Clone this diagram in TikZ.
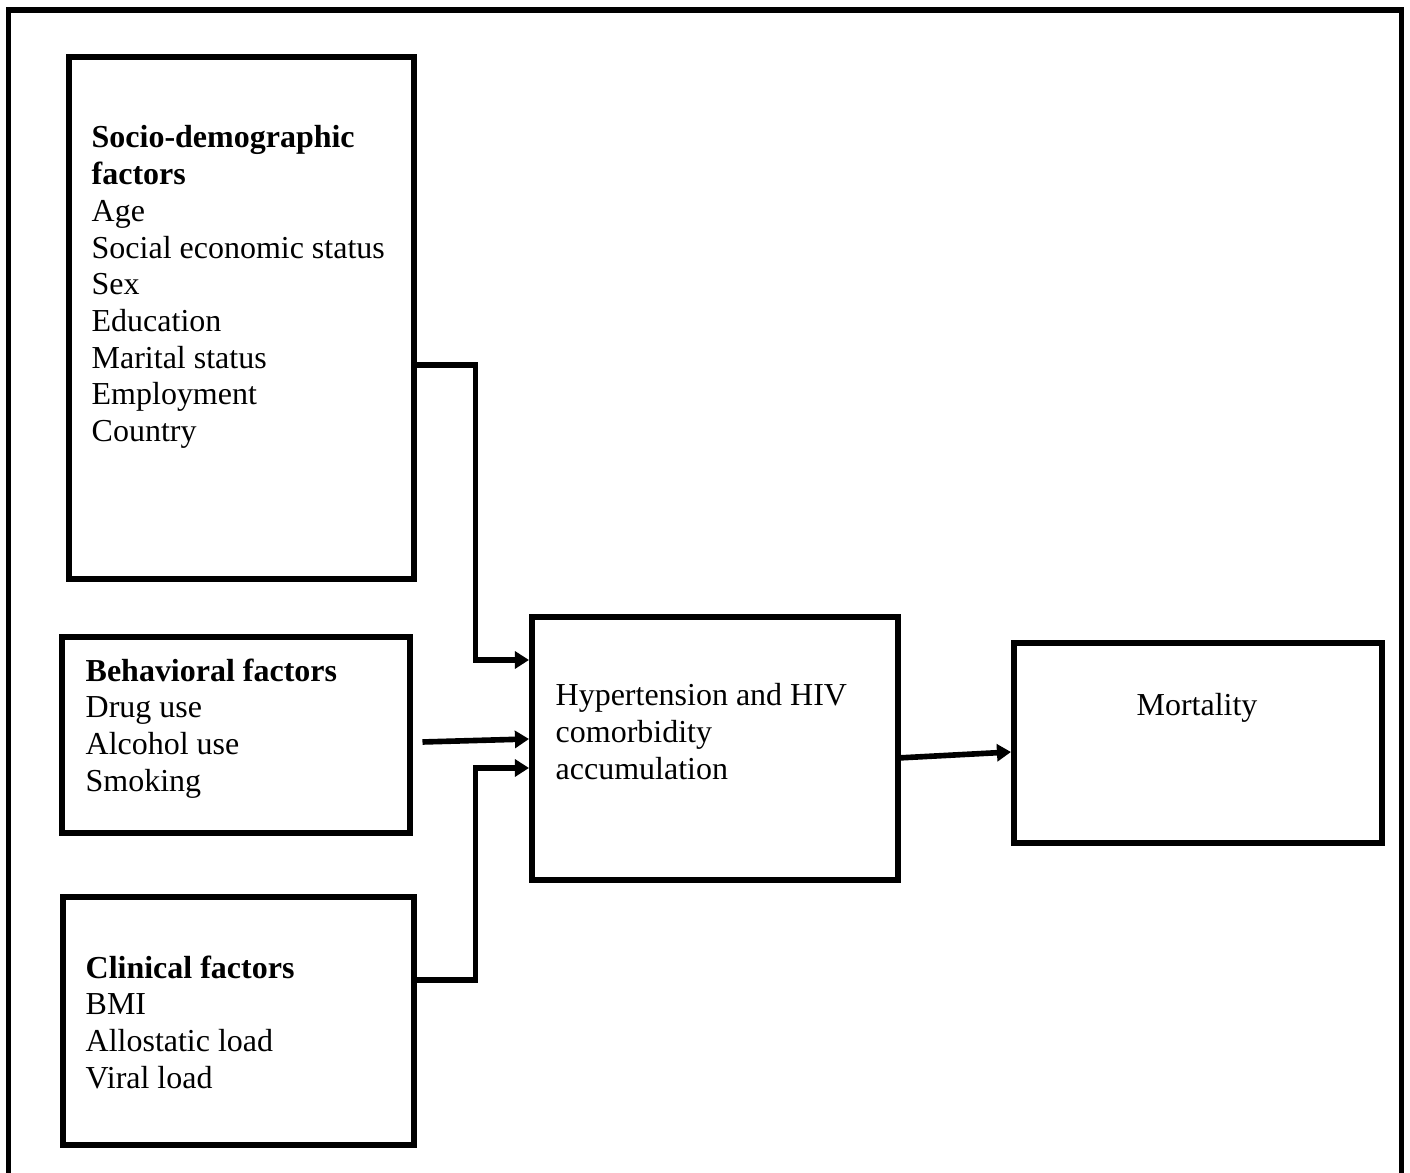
\documentclass[tikz,border=0pt]{standalone}
\usepackage{fontspec}
\setmainfont{Liberation Serif}
\usetikzlibrary{arrows.meta}

\begin{document}
\begin{tikzpicture}[
        box/.style={draw, line width=1.7pt, inner sep=0pt},
        txt/.style={inner sep=0pt, align=left, font=\fontsize{9.1}{10.45}\selectfont},
        conn/.style={line width=1.6pt, -{Triangle[length=4pt,width=4.8pt]}}]
        \useasboundingbox (0,0) rectangle (14.1,-11.73);
        \draw[line width=1.6pt] (0.085,-12)--(0.085,-0.10)--(14.015,-0.10)--(14.015,-12);
        % boxes
        \node[box, minimum width=3.45cm, minimum height=5.22cm] (socio) at (2.415,-3.18) {};
        \node[box, minimum width=3.48cm, minimum height=1.96cm] (behav) at (2.36,-7.35) {};
        \node[box, minimum width=3.51cm, minimum height=2.48cm] (clin) at (2.385,-10.21) {};
        \node[box, minimum width=3.66cm, minimum height=2.63cm] (center) at (7.15,-7.485) {};
        \node[box, minimum width=3.68cm, minimum height=2.00cm] (mort) at (11.98,-7.43) {};
        % texts
        \node[txt, anchor=north west] (sociotxt) at (0.91,-1.25) {\textbf{Socio-demographic}\\\textbf{factors}\\Age\\Social economic status\\Sex\\Education\\Marital status\\Employment\\Country};
        \node[txt, anchor=north west] (behavtxt) at (0.85,-6.58) {\textbf{Behavioral factors}\\Drug use\\Alcohol use\\Smoking};
        \node[txt, anchor=north west] (clintxt) at (0.85,-9.55) {\textbf{Clinical factors}\\BMI\\Allostatic load\\Viral load};
        \node[txt, anchor=north west] (centertxt) at (5.55,-6.83) {Hypertension and HIV\\comorbidity\\accumulation};
        \node[txt, anchor=base] (morttxt) at (11.97,-7.16) {Mortality};
        % arrows
        \draw[conn]([yshift=-0.47cm]socio.east)--++(0.585,0)|-([yshift=0.885cm]center.west);
        \draw[conn]([xshift=0.095cm,yshift=-0.07cm]behav.east)--([yshift=0.095cm]center.west);
        \draw[conn]([yshift=0.41cm]clin.east)--++(0.585,0)|-([yshift=-0.195cm]center.west);
        \draw[conn]([xshift=-0.03cm,yshift=-0.095cm]center.east)--([yshift=-0.09cm]mort.west);
    \end{tikzpicture}
\end{document}
